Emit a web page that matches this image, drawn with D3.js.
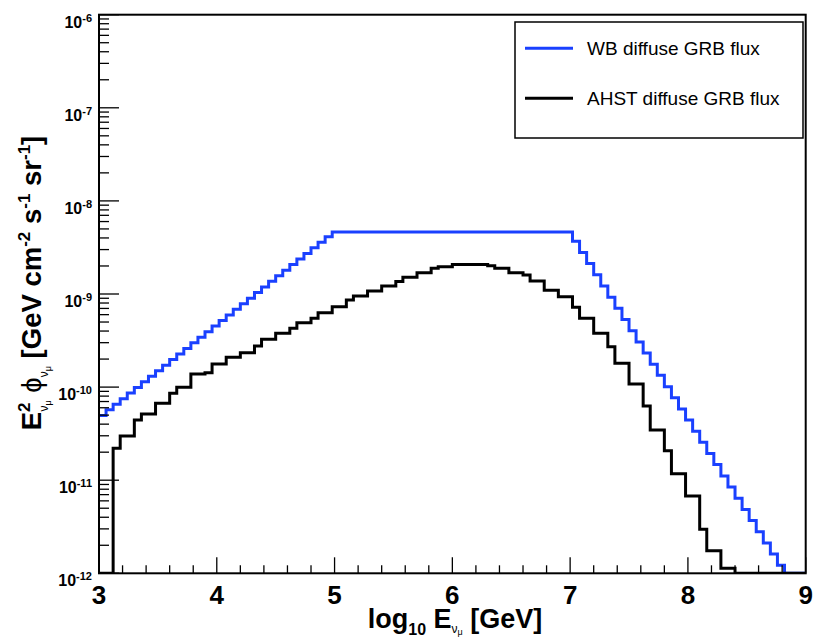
<!DOCTYPE html>
<html>
<head>
<meta charset="utf-8">
<script src="https://cdn.jsdelivr.net/npm/d3@7"></script>
<style>
  html, body { margin: 0; padding: 0; background: #ffffff; }
  svg { display: block; }
  text { font-family: "Liberation Sans", Arial, Helvetica, sans-serif; }
</style>
</head>
<body>
<svg id="chart" width="813" height="639"></svg>
<script>
// ---- Histogram binning (log10 E axis) ----
const xMin = 3, xMax = 9, nBins = 100;
const yMin = 1e-12, yMax = 1e-6;

// WB diffuse GRB flux, per bin (E^2 phi, GeV cm^-2 s^-1 sr^-1)
const wbFlux = [
  4.96e-11, 5.70e-11, 6.54e-11, 7.51e-11, 8.62e-11, 9.90e-11, 1.14e-10, 1.31e-10, 1.50e-10, 1.72e-10,
  1.98e-10, 2.27e-10, 2.60e-10, 2.99e-10, 3.43e-10, 3.94e-10, 4.52e-10, 5.19e-10, 5.96e-10, 6.84e-10,
  7.86e-10, 9.02e-10, 1.04e-9, 1.19e-9, 1.37e-9, 1.57e-9, 1.80e-9, 2.07e-9, 2.37e-9, 2.72e-9,
  3.13e-9, 3.59e-9, 4.12e-9, 4.63e-9, 4.63e-9, 4.63e-9, 4.63e-9, 4.63e-9, 4.63e-9, 4.63e-9,
  4.63e-9, 4.63e-9, 4.63e-9, 4.63e-9, 4.63e-9, 4.63e-9, 4.63e-9, 4.63e-9, 4.63e-9, 4.63e-9,
  4.63e-9, 4.63e-9, 4.63e-9, 4.63e-9, 4.63e-9, 4.63e-9, 4.63e-9, 4.63e-9, 4.63e-9, 4.63e-9,
  4.63e-9, 4.63e-9, 4.63e-9, 4.63e-9, 4.63e-9, 4.63e-9, 4.63e-9, 3.68e-9, 2.79e-9, 2.12e-9,
  1.61e-9, 1.22e-9, 9.25e-10, 7.01e-10, 5.32e-10, 4.04e-10, 3.06e-10, 2.32e-10, 1.76e-10, 1.34e-10,
  1.01e-10, 7.69e-11, 5.83e-11, 4.42e-11, 3.36e-11, 2.55e-11, 1.93e-11, 1.47e-11, 1.11e-11, 8.43e-12,
  6.39e-12, 4.85e-12, 3.68e-12, 2.79e-12, 2.12e-12, 1.61e-12, 1.22e-12, 9.25e-13, 7.01e-13, 5.32e-13
];

// AHST diffuse GRB flux, per bin
const ahstFlux = [
  0, 0, 2.20e-11, 2.99e-11, 2.99e-11, 4.43e-11, 5.14e-11, 5.14e-11, 6.70e-11, 6.70e-11,
  8.58e-11, 9.95e-11, 9.95e-11, 1.38e-10, 1.38e-10, 1.43e-10, 1.77e-10, 1.77e-10, 2.09e-10, 2.09e-10,
  2.34e-10, 2.34e-10, 2.76e-10, 3.26e-10, 3.26e-10, 3.78e-10, 3.78e-10, 4.28e-10, 4.92e-10, 4.92e-10,
  5.48e-10, 6.30e-10, 6.30e-10, 7.31e-10, 7.31e-10, 8.63e-10, 9.53e-10, 9.53e-10, 1.08e-9, 1.08e-9,
  1.22e-9, 1.22e-9, 1.36e-9, 1.51e-9, 1.51e-9, 1.69e-9, 1.69e-9, 1.89e-9, 1.96e-9, 1.96e-9,
  2.08e-9, 2.08e-9, 2.08e-9, 2.08e-9, 2.08e-9, 2.01e-9, 1.89e-9, 1.89e-9, 1.69e-9, 1.69e-9,
  1.60e-9, 1.38e-9, 1.38e-9, 1.10e-9, 1.10e-9, 9.35e-10, 9.35e-10, 7.19e-10, 5.48e-10, 5.48e-10,
  3.78e-10, 3.78e-10, 2.72e-10, 1.80e-10, 1.80e-10, 1.08e-10, 1.08e-10, 6.27e-11, 3.46e-11, 3.46e-11,
  2.07e-11, 1.17e-11, 1.17e-11, 6.77e-12, 6.77e-12, 2.97e-12, 1.75e-12, 1.75e-12, 1.13e-12, 1.13e-12,
  0, 0, 0, 0, 0, 0, 0, 0, 0, 0
];

const xTickValues = [3, 4, 5, 6, 7, 8, 9];
const yTickExponents = [-12, -11, -10, -9, -8, -7, -6];
const legendLabels = ["WB diffuse GRB flux", "AHST diffuse GRB flux"];
const seriesColors = ["#1a40ff", "#000000"];

// ---- Layout ----
const frame = { left: 99, right: 805.7, top: 14.7, bottom: 573.3 };

const svg = d3.select("#chart");
const x = d3.scaleLinear().domain([xMin, xMax]).range([frame.left, frame.right]);
const y = d3.scaleLog().domain([yMin, yMax]).range([frame.bottom, frame.top]);

svg.append("defs").append("clipPath").attr("id", "plotclip")
  .append("rect")
  .attr("x", frame.left).attr("y", frame.top - 2)
  .attr("width", frame.right - frame.left).attr("height", frame.bottom - frame.top + 2);

// histogram outline
const binW = (xMax - xMin) / nBins;
function histPoints(vals) {
  const pts = vals.map((v, i) => [xMin + i * binW, Math.max(v, yMin)]);
  pts.push([xMax, Math.max(vals[vals.length - 1], yMin)]);
  return pts;
}
const line = d3.line()
  .x(d => x(d[0]))
  .y(d => y(d[1]))
  .curve(d3.curveStepAfter);

const gPlot = svg.append("g").attr("clip-path", "url(#plotclip)");
[wbFlux, ahstFlux].forEach((vals, k) => {
  gPlot.append("path")
    .attr("d", line(histPoints(vals)))
    .attr("fill", "none")
    .attr("stroke", seriesColors[k])
    .attr("stroke-width", 3)
    .attr("stroke-linejoin", "miter")
    .attr("stroke-linecap", "square");
});

// frame
svg.append("rect")
  .attr("x", frame.left).attr("y", frame.top)
  .attr("width", frame.right - frame.left).attr("height", frame.bottom - frame.top)
  .attr("fill", "none").attr("stroke", "#000").attr("stroke-width", 2);

// x ticks
const xMinor = d3.range(30, 91, 2).map(v => v / 10);
const gx = svg.append("g");
xMinor.forEach(v => {
  const isMajor = Math.abs(v - Math.round(v)) < 1e-9;
  gx.append("line")
    .attr("x1", x(v)).attr("x2", x(v))
    .attr("y1", frame.bottom).attr("y2", frame.bottom - (isMajor ? 16 : 8))
    .attr("stroke", "#000").attr("stroke-width", 1.3);
});
xTickValues.forEach(v => {
  gx.append("text")
    .attr("x", x(v)).attr("y", 604)
    .attr("text-anchor", "middle")
    .attr("font-size", 26).attr("font-weight", "bold")
    .text(v);
});

// y ticks
const gy = svg.append("g");
for (let e = -12; e < -6; e++) {
  for (let m = 1; m <= 9; m++) {
    const v = m * Math.pow(10, e);
    gy.append("line")
      .attr("x1", frame.left).attr("x2", frame.left + (m === 1 ? 20 : 10))
      .attr("y1", y(v)).attr("y2", y(v))
      .attr("stroke", "#000").attr("stroke-width", 1.3);
  }
}
gy.append("line")
  .attr("x1", frame.left).attr("x2", frame.left + 20)
  .attr("y1", y(1e-6)).attr("y2", y(1e-6))
  .attr("stroke", "#000").attr("stroke-width", 1.3);

yTickExponents.forEach(e => {
  const yy = y(Math.pow(10, e));
  const t = gy.append("text")
    .attr("x", 92).attr("y", yy + 13)
    .attr("text-anchor", "end")
    .attr("font-weight", "bold");
  t.append("tspan").attr("font-size", 16).text("10");
  t.append("tspan").attr("font-size", 11).attr("dy", -6).text(String(e));
});

// x title
const xt = svg.append("text")
  .attr("x", 455).attr("y", 628)
  .attr("text-anchor", "middle")
  .attr("font-weight", "bold").attr("font-size", 27);
xt.append("tspan").text("log");
xt.append("tspan").attr("font-size", 16).attr("dy", 7).text("10");
xt.append("tspan").attr("dy", -7).text(" E");
xt.append("tspan").attr("font-size", 12).attr("font-weight", "normal").attr("dy", 5).text("ν");
xt.append("tspan").attr("font-size", 9).attr("font-weight", "normal").attr("dy", 2).text("μ");
xt.append("tspan").attr("dy", -7).text(" [GeV]");

// y title
const yt = svg.append("text")
  .attr("transform", "translate(41,283) rotate(-90)")
  .attr("text-anchor", "middle")
  .attr("font-weight", "bold").attr("font-size", 27.5);
yt.append("tspan").text("E");
yt.append("tspan").attr("font-size", 17).attr("dy", -11).text("2");
yt.append("tspan").attr("font-size", 12).attr("font-weight", "normal").attr("dx", -9).attr("dy", 18).text("ν");
yt.append("tspan").attr("font-size", 9).attr("font-weight", "normal").attr("dy", 3).text("μ");
yt.append("tspan").attr("font-weight", "normal").attr("dy", -10).text(" ϕ");
yt.append("tspan").attr("font-size", 12).attr("font-weight", "normal").attr("dy", 7).text("ν");
yt.append("tspan").attr("font-size", 9).attr("font-weight", "normal").attr("dy", 3).text("μ");
yt.append("tspan").attr("dy", -10).text("  [GeV cm");
yt.append("tspan").attr("font-size", 17).attr("dy", -11).text("-2");
yt.append("tspan").attr("dy", 11).text(" s");
yt.append("tspan").attr("font-size", 17).attr("dy", -11).text("-1");
yt.append("tspan").attr("dy", 11).text(" sr");
yt.append("tspan").attr("font-size", 17).attr("dy", -11).text("-1");
yt.append("tspan").attr("dy", 11).text("]");

// legend
const lg = svg.append("g");
lg.append("rect")
  .attr("x", 515).attr("y", 22).attr("width", 288).attr("height", 116)
  .attr("fill", "#fff").attr("stroke", "#000").attr("stroke-width", 1.5);
legendLabels.forEach((lab, k) => {
  const ly = 48.3 + k * 50;
  lg.append("line")
    .attr("x1", 525).attr("x2", 573).attr("y1", ly).attr("y2", ly)
    .attr("stroke", seriesColors[k]).attr("stroke-width", 3);
  lg.append("text")
    .attr("x", 587).attr("y", ly + 7)
    .attr("font-size", 19)
    .text(lab);
});
</script>
</body>
</html>
